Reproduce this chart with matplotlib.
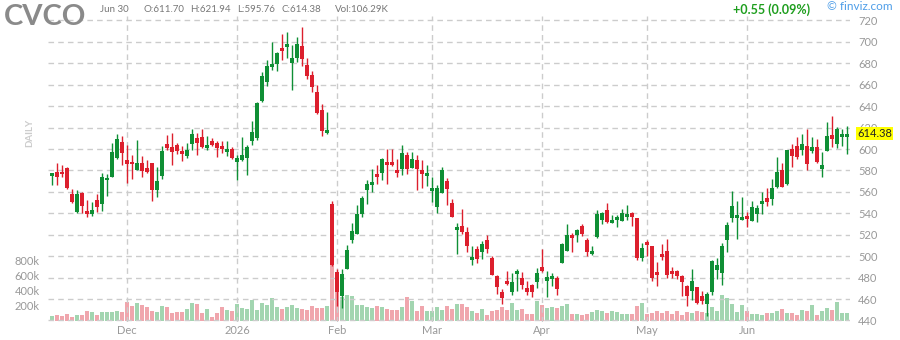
import matplotlib
matplotlib.use("Agg")
from matplotlib import pyplot as plt
import numpy as np

plt.rcParams["font.family"] = ["Lato", "DejaVu Sans"]

# daily candles, Nov 7 2025 .. Jun 30 2026 (trading days)
opens = [575.3, 578.8, 578.8, 582.5, 558.2, 541.4, 559.2, 542.4, 539.6, 552.6,
         548.3, 570.7, 574.1, 591.5, 606.8, 590.0, 588.1, 580.6, 587.2, 581.9,
         587.2, 562.0, 575.0, 604.9, 602.1, 604.0, 598.4, 593.7, 604.9, 610.5,
         611.4, 601.2, 607.7, 605.8, 603.0, 597.4, 600.2, 588.1, 590.0, 591.8,
         607.7, 610.5, 645.0, 662.8, 676.8, 679.6, 694.5, 695.4, 680.5, 685.2,
         696.4, 678.6, 669.3, 653.4, 636.6, 615.2, 548.9, 485.4, 463.0, 488.2,
         515.3, 520.9, 539.6, 562.0, 566.6, 576.9, 577.8, 588.1, 588.1, 580.6,
         581.6, 594.6, 582.5, 590.0, 580.6, 575.0, 561.0, 546.1, 559.2, 570.4,
         549.8, 524.6, 528.4, 522.8, 496.6, 506.9, 504.1, 515.3, 498.5, 481.7,
         466.8, 477.0, 466.8, 483.6, 479.8, 470.5, 473.3, 476.1, 490.1, 477.0,
         478.9, 479.8, 493.8, 505.0, 520.0, 520.0, 528.4, 515.3, 502.2, 518.1,
         534.0, 543.3, 531.2, 534.0, 533.0, 536.8, 540.5, 535.8, 498.5, 513.4,
         509.7, 485.4, 502.2, 505.0, 486.4, 486.4, 481.7, 472.4, 467.7, 471.4,
         463.0, 455.6, 466.8, 487.3, 484.5, 515.3, 535.8, 535.8, 534.0, 537.7,
         533.0, 539.6, 548.9, 554.5, 553.6, 564.8, 580.6, 567.6, 600.2, 603.0,
         599.3, 603.0, 598.4, 602.1, 581.6, 598.4, 613.3, 604.9, 611.4, 611.70]
highs = [578.0, 587.2, 585.3, 583.0, 562.9, 562.0, 559.5, 552.6, 550.8, 558.2,
         577.8, 576.9, 605.8, 614.2, 612.4, 604.0, 594.6, 608.6, 593.7, 590.0,
         587.2, 583.4, 603.0, 613.3, 615.2, 605.8, 603.0, 605.8, 618.9, 615.2,
         618.9, 612.4, 610.5, 607.7, 607.7, 607.7, 602.1, 594.6, 611.4, 604.0,
         626.4, 643.5, 672.1, 683.3, 700.1, 690.8, 707.6, 709.4, 697.3, 704.8,
         714.1, 685.2, 673.0, 660.0, 642.2, 634.8, 551.7, 488.2, 488.2, 510.6,
         531.2, 548.0, 556.4, 571.3, 581.6, 585.3, 591.8, 600.2, 600.2, 590.9,
         604.0, 597.4, 597.4, 594.6, 590.0, 585.3, 574.1, 566.6, 583.4, 573.2,
         553.6, 531.2, 544.2, 527.4, 509.7, 509.7, 514.4, 520.0, 500.4, 482.6,
         469.6, 486.4, 484.5, 488.2, 485.4, 477.0, 474.2, 489.2, 506.9, 486.4,
         484.5, 481.7, 512.5, 530.2, 521.8, 525.6, 530.2, 517.2, 509.7, 543.3,
         541.4, 549.8, 538.6, 538.6, 544.2, 548.0, 541.4, 535.8, 512.5, 515.3,
         509.7, 494.8, 511.6, 516.2, 490.1, 487.3, 482.6, 473.3, 488.2, 471.4,
         467.7, 466.8, 496.6, 498.5, 512.5, 532.1, 561.0, 551.7, 555.4, 541.4,
         551.7, 548.0, 560.1, 563.8, 572.2, 592.8, 587.2, 599.3, 604.9, 611.4,
         614.2, 618.9, 611.4, 609.6, 597.4, 625.4, 631.0, 620.8, 618.9, 621.94]
lows = [566.0, 566.6, 574.4, 563.0, 549.8, 540.8, 540.2, 536.8, 537.7, 541.7,
        542.4, 556.4, 574.0, 590.9, 585.3, 568.5, 572.2, 580.6, 574.1, 577.8,
        551.7, 555.4, 572.2, 599.3, 585.3, 595.6, 589.0, 591.8, 599.3, 594.6,
        601.2, 599.3, 603.0, 592.8, 596.5, 593.7, 590.9, 571.3, 589.0, 576.0,
        604.0, 608.6, 644.0, 659.0, 674.0, 673.0, 683.3, 685.2, 655.3, 681.4,
        677.7, 665.6, 653.4, 632.9, 612.4, 614.2, 491.0, 453.7, 451.8, 488.0,
        512.5, 520.8, 536.8, 548.9, 560.1, 567.6, 571.3, 567.6, 584.4, 574.1,
        576.0, 576.9, 582.5, 562.0, 563.8, 565.7, 550.8, 540.5, 559.2, 548.0,
        536.5, 502.2, 520.9, 504.1, 492.0, 493.8, 497.6, 503.2, 482.0, 464.9,
        455.6, 473.3, 464.0, 467.7, 469.6, 464.0, 462.1, 470.5, 485.4, 462.1,
        472.4, 464.0, 493.8, 505.0, 504.1, 513.4, 519.0, 500.4, 501.3, 517.2,
        530.2, 531.2, 531.2, 527.4, 533.0, 534.0, 528.4, 496.6, 495.7, 500.4,
        477.0, 472.4, 496.6, 479.8, 479.8, 478.9, 463.0, 453.7, 459.3, 455.6,
        455.6, 444.4, 464.0, 478.9, 473.3, 504.1, 532.1, 516.2, 534.0, 527.4,
        533.0, 532.1, 539.6, 547.0, 548.0, 563.8, 564.8, 566.6, 583.4, 590.9,
        594.6, 580.6, 596.5, 587.2, 574.1, 598.4, 602.1, 601.2, 603.0, 595.76]
closes = [577.8, 573.5, 576.3, 563.2, 550.8, 558.2, 547.0, 539.6, 543.3, 545.5,
          574.1, 573.2, 597.4, 609.6, 596.5, 585.6, 585.6, 587.2, 579.1, 578.8,
          562.0, 570.4, 598.4, 601.2, 597.4, 598.4, 595.6, 599.3, 614.2, 605.8,
          602.1, 604.0, 604.0, 601.2, 600.2, 600.2, 591.8, 591.8, 594.6, 602.1,
          616.1, 643.2, 668.4, 677.7, 679.6, 689.8, 691.7, 698.3, 685.2, 698.3,
          684.2, 668.4, 658.1, 633.8, 617.0, 618.0, 492.0, 466.8, 483.6, 506.0,
          523.7, 539.6, 554.5, 567.6, 569.4, 574.1, 590.9, 585.3, 585.3, 577.8,
          596.5, 581.6, 590.9, 581.6, 576.9, 577.8, 563.8, 563.8, 580.6, 562.9,
          536.8, 527.4, 522.8, 509.7, 499.4, 497.6, 511.6, 506.9, 482.6, 471.4,
          461.2, 474.2, 476.1, 486.4, 473.3, 466.8, 466.8, 484.5, 486.4, 480.8,
          481.7, 469.6, 511.6, 520.0, 517.2, 524.6, 520.9, 504.1, 505.0, 539.6,
          540.5, 532.1, 534.0, 536.8, 540.5, 539.6, 536.8, 498.5, 507.8, 510.6,
          479.8, 482.6, 499.4, 482.6, 483.6, 481.7, 476.1, 463.0, 477.0, 456.5,
          458.4, 464.9, 495.7, 492.0, 509.7, 529.3, 547.0, 538.6, 536.8, 534.9,
          546.1, 545.2, 551.7, 550.8, 563.8, 578.8, 564.8, 599.3, 593.7, 592.8,
          604.9, 586.2, 602.1, 588.1, 585.3, 612.4, 609.6, 618.9, 613.83, 614.38]
# volume in thousands
volumes = [62, 76, 62, 89, 49, 76, 76, 129, 116, 76,
           116, 116, 116, 129, 116, 249, 196, 236, 209, 182,
           129, 116, 196, 182, 102, 116, 116, 156, 236, 222,
           102, 156, 49, 102, 182, 142, 129, 222, 169, 156,
           276, 142, 236, 209, 302, 182, 156, 182, 209, 169,
           156, 142, 196, 169, 169, 196, 756, 382, 316, 342,
           329, 209, 209, 182, 169, 196, 182, 156, 142, 142,
           182, 316, 262, 129, 196, 129, 129, 182, 142, 196,
           156, 222, 222, 182, 129, 102, 156, 76, 129, 142,
           182, 142, 236, 142, 156, 89, 89, 262, 209, 169,
           182, 169, 196, 222, 89, 89, 76, 89, 116, 142,
           129, 102, 129, 116, 89, 89, 89, 196, 236, 89,
           102, 129, 102, 129, 89, 129, 76, 116, 102, 129,
           116, 102, 182, 129, 342, 302, 222, 116, 209, 129,
           89, 89, 76, 102, 102, 129, 156, 102, 102, 76,
           142, 129, 209, 76, 129, 169, 142, 249, 102, 106.29]

month_pos = [15, 37, 57, 76, 98, 119, 139]
month_lab = ["Dec", "2026", "Feb", "Mar", "Apr", "May", "Jun"]
price_ticks = list(range(440, 721, 20))
vol_ticks = [200, 400, 600, 800]

green, red = "#0f8f35", "#dc1f2d"
vgreen, vred = "#a2d5b0", "#f0a6ad"

W, H = 900, 340
fig = plt.figure(figsize=(9, 3.4), dpi=100)
rect = [48 / W, 1 - 322 / H, (850 - 48) / W, (322 - 16) / H]
axv = fig.add_axes(rect)
ax = fig.add_axes(rect, sharex=axv)
ax.patch.set_visible(False)

x = np.arange(len(opens))
o = np.array(opens)
c = np.array(closes)
up = c >= o

axv.bar(x, volumes, width=0.8, color=np.where(up, vgreen, vred), linewidth=0)
axv.set_ylim(-17.7, 4062)
axv.set_yticks(vol_ticks, [f"{v}k" for v in vol_ticks])
axv.tick_params(axis="y", length=0, pad=5.8, labelsize=8, colors="#999999")
axv.tick_params(axis="x", bottom=False, labelbottom=False)

ax.grid(True, color="#cccccc", linestyle=(0, (4, 3)), linewidth=1)
ax.set_axisbelow(True)
ax.vlines(x, lows, highs, color=np.where(up, green, red), linewidth=1.0)
ax.bar(x, np.maximum(np.abs(c - o), 0.8), bottom=np.minimum(o, c), width=0.8,
       color=np.where(up, green, red), linewidth=0)
ax.set_xlim(-0.8, 159.6)
ax.set_ylim(438.6, 724.2)
ax.yaxis.tick_right()
ax.set_yticks(price_ticks)
ax.set_xticks(month_pos, month_lab)
ax.tick_params(axis="y", length=0, pad=5.8, labelsize=8, colors="#999999")
ax.tick_params(axis="x", length=0, pad=2, labelsize=8, colors="#999999")
for a in (ax, axv):
    for s in a.spines.values():
        s.set_visible(False)

ax.text(1 + 7 / 802, closes[-1], f"{closes[-1]:.2f}", transform=ax.get_yaxis_transform(),
        va="center", ha="left", fontsize=8, color="#222222", zorder=10,
        bbox=dict(boxstyle="square,pad=0.12", fc="#ffff00", ec="none"))


def px(xp, yp):
    return xp / W, 1 - yp / H


fig.text(*px(4, 17), "CVCO", fontsize=21, fontweight="bold", color="#8a8a8a", va="center")
fig.text(*px(100, 9), "Jun 30", fontsize=7, color="#777777", va="center")
header = [(143, f"O:{opens[-1]:.2f}"), (190, f"H:{highs[-1]:.2f}"),
          (237, f"L:{lows[-1]:.2f}"), (282, f"C:{closes[-1]:.2f}"),
          (335, f"Vol:{volumes[-1]:.2f}K")]
for hx, t in header:
    fig.text(*px(hx, 9), t, fontsize=7, color="#777777", va="center")
chg = closes[-1] - closes[-2]
fig.text(*px(810, 10), f"+{chg:.2f} ({chg / closes[-2] * 100:.2f}%)", fontsize=9,
         fontweight="bold", color="#1e9e1e", va="center", ha="right")
fig.text(*px(827, 7), "© finviz.com", fontsize=8.5, color="#4d9de8", va="center")
fig.text(*px(30, 133), "DAILY", fontsize=7, fontweight="bold", color="#cccccc",
         rotation=90, va="center", ha="center")

fig.savefig("out.png", dpi=100)
